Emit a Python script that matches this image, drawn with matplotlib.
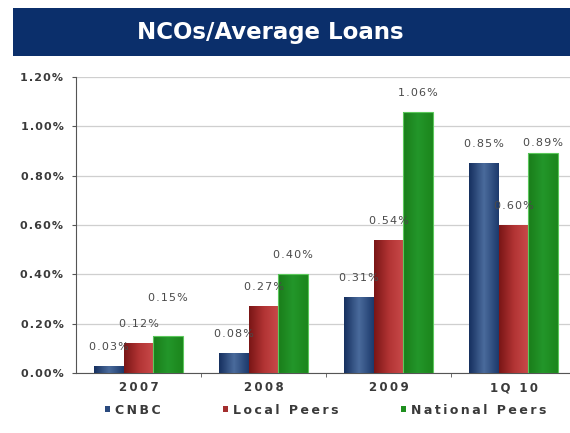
import matplotlib
matplotlib.use("Agg")
import matplotlib.pyplot as plt
import numpy as np
from matplotlib.colors import LinearSegmentedColormap
from matplotlib.patches import Patch, Rectangle

# Net charge-offs as a share of average loans, in percent
categories = ["2007", "2008", "2009", "1Q 10"]
series_names = ["CNBC", "Local Peers", "National Peers"]
cnbc = [0.03, 0.08, 0.31, 0.85]
local_peers = [0.12, 0.27, 0.54, 0.60]
national_peers = [0.15, 0.40, 1.06, 0.89]
ytick_values = [0.0, 0.2, 0.4, 0.6, 0.8, 1.0, 1.2]

# Side-to-side shading for each series (left edge, middle, right edge)
shades = [
    ["#16305f", "#4a6b9c", "#1d3a6c"],
    ["#7a1616", "#b23434", "#c94a4a"],
    ["#1a7d1a", "#23962a", "#1c861c"],
]
legend_colors = ["#2a4a7e", "#a32e2e", "#1f8f1f"]
label_color = "#4a4a4a"
tick_color = "#3a3a3a"


def spaced(s, gap="\u200a"):
    # widen the lettering a little, like the original slide font
    return gap.join(s)


fig = plt.figure(figsize=(5.7, 4.33), dpi=100)
fig.patch.set_facecolor("white")

# Title banner
fig.patches.append(Rectangle((13 / 570, 1 - 56 / 433), 1 - 13 / 570, 48 / 433,
                             transform=fig.transFigure, facecolor="#0b2f6b",
                             edgecolor="none", zorder=0))
fig.text(270 / 570, 1 - 32 / 433, "NCOs/Average Loans", color="white", fontsize=16.5,
         fontweight="bold", ha="center", va="center", family="DejaVu Sans")

ax = fig.add_axes([76 / 570, 60 / 433, 494 / 570, 296 / 433])

x = np.arange(len(categories))
bar_w = 0.235
all_series = [cnbc, local_peers, national_peers]

xlim = (-0.5, (570 - 76) / 125 - 0.5)
ylim = (0, 1.2)

for i, values in enumerate(all_series):
    cmap = LinearSegmentedColormap.from_list(f"s{i}", shades[i])
    grad = np.linspace(0, 1, 64).reshape(1, -1)
    bars = ax.bar(x + (i - 1) * bar_w, values, bar_w, color=legend_colors[i],
                  edgecolor="none", zorder=3)
    for b in bars:
        im = ax.imshow(grad, cmap=cmap, aspect="auto", zorder=3.5,
                       extent=[b.get_x(), b.get_x() + b.get_width(), 0, b.get_height()])
        im.set_clip_path(b)
    if i == 2:
        for b in bars:
            ax.add_patch(Rectangle((b.get_x(), 0), b.get_width(), b.get_height(),
                                   facecolor="none", edgecolor="#5cc85c", lw=0.8, zorder=4))

# Value labels, a few nudged up or down so they don't collide
nudges = {(2, 0): 38, (2, 3): 10}
for i, values in enumerate(all_series):
    for j, v in enumerate(values):
        off = nudges.get((i, j), 19)
        ax.annotate(spaced(f"{v:.2f}%"), (x[j] + (i - 1) * bar_w, v),
                    xytext=(0, off * 0.72), textcoords="offset points",
                    ha="center", va="center", fontsize=8, color=label_color,
                    zorder=6)

ax.set_xlim(*xlim)
ax.set_ylim(*ylim)

ax.set_yticks(ytick_values)
ax.set_yticklabels([spaced(f"{v:.2f}%") for v in ytick_values], fontsize=8,
                   fontweight="bold", color=tick_color)
ax.yaxis.grid(True, color="#cfcfcf", lw=0.9, zorder=0)
ax.set_axisbelow(True)

ax.set_xticks(x)
ax.set_xticklabels([spaced(c, "\u2009") for c in categories], fontsize=8.5,
                   fontweight="bold", color=tick_color)
ax.set_xticks(x[:-1] + 0.5, minor=True)
ax.tick_params(axis="x", which="major", length=0, pad=6)
ax.tick_params(axis="x", which="minor", length=3, color="#555555", direction="out")
ax.tick_params(axis="y", length=3, color="#555555", pad=6)

for side in ["top", "right"]:
    ax.spines[side].set_visible(False)
ax.spines["left"].set_color("#555555")
ax.spines["bottom"].set_color("#555555")

handles = [Patch(facecolor=c, edgecolor="none") for c in legend_colors]
fig.legend(handles, [spaced(n, "\u2009") for n in series_names], loc="center",
           bbox_to_anchor=(0.571, 1 - 410 / 433), ncol=3, frameon=False,
           handlelength=0.45, handleheight=0.45, handletextpad=0.35,
           columnspacing=5.0, prop={"size": 9, "weight": "bold"},
           labelcolor=tick_color)

fig.savefig("out.png", dpi=100)
